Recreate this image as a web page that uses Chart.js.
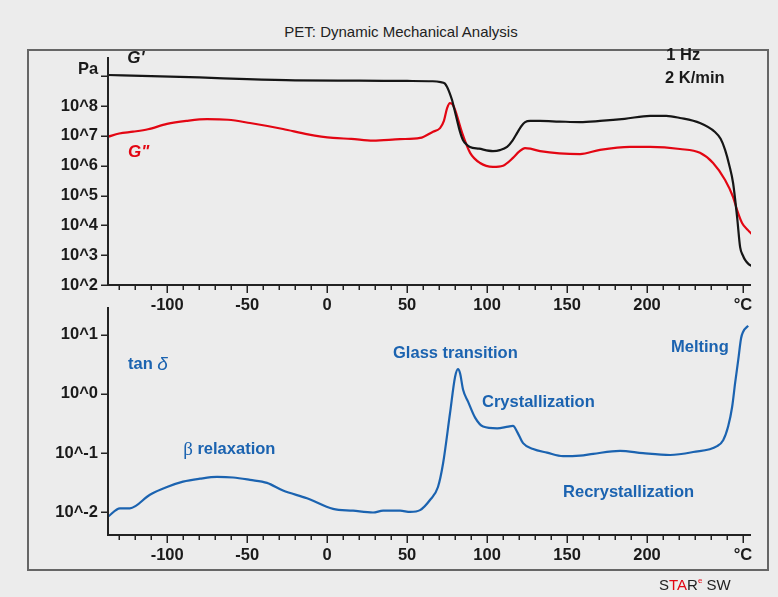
<!DOCTYPE html>
<html>
<head>
<meta charset="utf-8">
<title>PET: Dynamic Mechanical Analysis</title>
<script src="https://cdn.jsdelivr.net/npm/chart.js@4.4.1/dist/chart.umd.min.js"></script>
<style>
  html, body { margin: 0; padding: 0; background: #ececec; }
  #page { position: relative; width: 778px; height: 597px; overflow: hidden;
          font-family: "Liberation Sans", Arial, sans-serif; }
  #title { position: absolute; left: 401px; top: 23px; transform: translateX(-50%);
           font-size: 15px; line-height: 18px; color: #222; white-space: nowrap; }
  #frame { position: absolute; left: 27px; top: 49px; width: 742px; height: 522px;
           box-sizing: border-box; border: 2px solid #666; }
  #footer { position: absolute; left: 659px; top: 576px; font-size: 15px; line-height: 18px;
            color: #222; white-space: nowrap; }
  #footer .r { color: #e30613; }
  #footer sup { font-size: 8px; vertical-align: 7px; line-height: 0; }
  canvas { position: absolute; left: 0; top: 0; }
</style>
</head>
<body>
<div id="page">
  <div id="title">PET: Dynamic Mechanical Analysis</div>
  <div id="frame"></div>
  <canvas id="moduli" width="778" height="597"></canvas>
  <canvas id="tand" width="778" height="597"></canvas>
  <div id="footer">S<span class="r">TA</span>R<sup class="r">e</sup> SW</div>
</div>
<script>
// Temperature in °C; moduli and loss factor stored as log10 values.
const storageT = [-137, -110, -80, -50, -20, 20, 50, 66, 71, 73.5, 75, 76.5, 78.1, 79.6, 81.2, 83, 84.9, 87, 89.3, 95,
  103.7, 108, 112.5, 116, 118.8, 121.5, 123.8, 127, 133.1, 145, 158.1, 170.6, 186, 201.9, 212, 220.6, 233.1, 242.5, 246, 248.8,
  251.5, 253.8, 256.3, 258.2, 260, 261.3, 263.5, 265.5];
const storageLog = [9.04, 9.00, 8.96, 8.90, 8.86, 8.85, 8.84, 8.83, 8.80, 8.76, 8.64, 8.45, 8.20, 7.88, 7.53, 7.15, 6.86, 6.72, 6.63, 6.57,
  6.49, 6.52, 6.63, 6.85, 7.10, 7.33, 7.46, 7.50, 7.50, 7.48, 7.46, 7.50, 7.57, 7.67, 7.67, 7.60, 7.43, 7.13, 6.90, 6.53,
  6.00, 5.42, 4.28, 3.27, 2.98, 2.84, 2.70, 2.64];

const lossT = [-137, -130, -121.3, -112, -100.1, -88, -75.1, -62, -48.2, -27.6, -12, 3.7, 15, 28.7, 45.6, 58.1, 66.2, 70.6, 73, 75,
  76.8, 78.4, 80, 84.4, 89.4, 95.6, 103.7, 110, 116.2, 120, 123.7, 127, 133.1, 158.1, 170.6, 189.4, 201.9, 220.6, 233.1, 241.3,
  248.8, 253.8, 256.3, 259.4, 263.1, 265.5];
const lossLog = [6.97, 7.08, 7.14, 7.22, 7.40, 7.50, 7.56, 7.54, 7.43, 7.23, 7.05, 6.93, 6.90, 6.84, 6.89, 6.93, 7.14, 7.26, 7.50, 7.93,
  8.10, 8.06, 7.87, 7.10, 6.43, 6.09, 5.96, 6.00, 6.26, 6.47, 6.59, 6.57, 6.49, 6.39, 6.53, 6.63, 6.63, 6.56, 6.43, 6.09,
  5.52, 4.95, 4.51, 4.08, 3.84, 3.71];

const tanT = [-137, -129.5, -123.3, -110.8, -100.1, -90.1, -79.5, -68.8, -58.8, -48.2, -37.6, -27.6, -12.6, 3.7, 16.2, 28.7, 35.0, 45.6, 52, 58.1,
  64.3, 69.3, 72.5, 76.8, 80.0, 81.8, 83.1, 85.0, 88.1, 92.5, 97.5, 106.3, 113.2, 116.2, 118.8, 122.5, 128.8, 137.5, 147.5, 158.1,
  166.3, 183.1, 197.5, 214.4, 228.8, 243.8, 247.6, 250.7, 253.2, 255.1, 257.0, 258.8, 260.1, 263.2];
const tanLog = [-2.07, -1.93, -1.93, -1.70, -1.57, -1.48, -1.43, -1.40, -1.41, -1.45, -1.50, -1.63, -1.76, -1.94, -1.97, -2.00, -1.97, -1.97, -1.99, -1.96,
  -1.79, -1.57, -1.17, -0.33, 0.29, 0.42, 0.35, 0.07, -0.13, -0.40, -0.55, -0.58, -0.55, -0.54, -0.64, -0.83, -0.93, -0.99, -1.05, -1.04,
  -1.01, -0.96, -1.00, -1.03, -0.98, -0.88, -0.78, -0.55, -0.22, 0.19, 0.57, 0.94, 1.05, 1.15];

// Axis ticks
const tempTicks = [];
for (let t = -130; t <= 260; t += 10) tempTicks.push(t);
const tempLabels = { '-100': '-100', '-50': '-50', '0': '0', '50': '50', '100': '100', '150': '150', '200': '200', '260': '°C' };
const moduliDecades = [2, 3, 4, 5, 6, 7, 8, 9];
const tanDecades = [-2, -1, 0, 1];

const FONT = '"Liberation Sans", Arial, sans-serif';
const BLUE = '#1b63b0';
const RED = '#e30613';

const pts = (xs, ys) => xs.map((x, i) => ({ x, y: ys[i] }));

// Axis lines, tick marks and text notes placed in data coordinates
const axisDecor = {
  id: 'axisDecor',
  afterDraw(chart, args, opts) {
    const { ctx, chartArea: a, scales: { x, y } } = chart;
    ctx.save();
    ctx.strokeStyle = '#222';
    ctx.lineCap = 'butt';
    ctx.lineWidth = 2;
    ctx.beginPath();
    ctx.moveTo(a.left, a.top - 1);
    ctx.lineTo(a.left, a.bottom);
    ctx.lineTo(a.right, a.bottom);
    ctx.stroke();
    ctx.lineWidth = 1.5;
    ctx.beginPath();
    x.ticks.forEach(t => {
      const px = Math.round(x.getPixelForValue(t.value)) + 0.25;
      const len = tempLabels[String(t.value)] ? 8 : 5;
      ctx.moveTo(px, a.bottom);
      ctx.lineTo(px, a.bottom + len);
    });
    y.ticks.forEach(t => {
      const py = Math.round(y.getPixelForValue(t.value)) + 0.25;
      ctx.moveTo(a.left - 7, py);
      ctx.lineTo(a.left, py);
    });
    ctx.stroke();

    ctx.textBaseline = 'middle';
    (opts.notes || []).forEach(n => {
      let px = x.getPixelForValue(n.x);
      const py = y.getPixelForValue(n.y);
      const widths = n.parts.map(p => { ctx.font = p.font; return ctx.measureText(p.text).width; });
      const total = widths.reduce((s, w) => s + w, 0);
      if (n.align === 'right') px -= total;
      n.parts.forEach((p, i) => {
        ctx.font = p.font;
        ctx.fillStyle = p.color;
        ctx.textAlign = 'left';
        ctx.fillText(p.text, px, py);
        px += widths[i];
      });
    });
    ctx.restore();
  }
};

const bold = `bold 16.5px ${FONT}`;
const boldItalic = `italic bold 17px ${FONT}`;

function tempAxis(xHeight) {
  return {
    type: 'linear', position: 'bottom', min: -137, max: 265,
    afterBuildTicks(s) { s.ticks = tempTicks.map(v => ({ value: v })); },
    afterFit(s) { s.height = xHeight; },
    grid: { display: false, drawTicks: false },
    border: { display: false },
    ticks: {
      autoSkip: false, maxRotation: 0, minRotation: 0, padding: 11,
      color: '#1a1a1a', font: { family: FONT, size: 16.5, weight: 'bold' },
      callback: v => tempLabels[String(v)] || ''
    }
  };
}

function valueAxis(min, max, decades, label) {
  return {
    type: 'linear', position: 'left', min, max,
    afterBuildTicks(s) { s.ticks = decades.map(v => ({ value: v })); },
    afterFit(s) { s.width = 108; },
    grid: { display: false, drawTicks: false },
    border: { display: false },
    ticks: {
      autoSkip: false, padding: 10,
      color: '#1a1a1a', font: { family: FONT, size: 16.5, weight: 'bold' },
      callback: label
    }
  };
}

const common = {
  responsive: false,
  animation: false,
  events: [],
  plugins: { legend: { display: false }, tooltip: { enabled: false } }
};

// Storage and loss modulus
new Chart(document.getElementById('moduli'), {
  type: 'line',
  data: {
    datasets: [
      { label: "G'", data: pts(storageT, storageLog), borderColor: '#161616', borderWidth: 2.2,
        pointRadius: 0, cubicInterpolationMode: 'monotone', fill: false },
      { label: 'G"', data: pts(lossT, lossLog), borderColor: RED, borderWidth: 2.2,
        pointRadius: 0, cubicInterpolationMode: 'monotone', fill: false }
    ]
  },
  options: {
    ...common,
    layout: { padding: { left: 0, top: 58, right: 27, bottom: 0 } },
    scales: {
      x: tempAxis(597 - 285),
      y: valueAxis(2, 9.61, moduliDecades, v => (v === 9 ? '' : '10^' + v))
    },
    plugins: {
      ...common.plugins,
      axisDecor: {
        notes: [
          { x: -143.2, y: 9.24, align: 'right', parts: [{ text: 'Pa', font: bold, color: '#1a1a1a' }] },
          { x: -125, y: 9.61, parts: [{ text: "G'", font: boldItalic, color: '#1a1a1a' }] },
          { x: -124.5, y: 6.46, parts: [{ text: 'G"', font: boldItalic, color: RED }] },
          { x: 212, y: 9.71, parts: [{ text: '1 Hz', font: bold, color: '#1a1a1a' }] },
          { x: 211.3, y: 8.92, parts: [{ text: '2 K/min', font: bold, color: '#1a1a1a' }] }
        ]
      }
    }
  },
  plugins: [axisDecor]
});

// Loss factor
new Chart(document.getElementById('tand'), {
  type: 'line',
  data: {
    datasets: [
      { label: 'tan δ', data: pts(tanT, tanLog), borderColor: BLUE, borderWidth: 2.2,
        pointRadius: 0, cubicInterpolationMode: 'monotone', fill: false }
    ]
  },
  options: {
    ...common,
    layout: { padding: { left: 0, top: 308, right: 27, bottom: 0 } },
    scales: {
      x: tempAxis(597 - 535),
      y: valueAxis(-2.38, 1.45, tanDecades, v => '10^' + v)
    },
    plugins: {
      ...common.plugins,
      axisDecor: {
        notes: [
          { x: -124.5, y: 0.49, parts: [
            { text: 'tan ', font: bold, color: BLUE },
            { text: 'δ', font: `italic 19px ${FONT}`, color: BLUE } ] },
          { x: -90, y: -0.94, parts: [
            { text: 'β', font: `19px "Liberation Serif", serif`, color: BLUE },
            { text: ' relaxation', font: bold, color: BLUE } ] },
          { x: 41.2, y: 0.69, parts: [{ text: 'Glass transition', font: bold, color: BLUE }] },
          { x: 96.8, y: -0.15, parts: [{ text: 'Crystallization', font: bold, color: BLUE }] },
          { x: 147.5, y: -1.67, parts: [{ text: 'Recrystallization', font: bold, color: BLUE }] },
          { x: 215, y: 0.78, parts: [{ text: 'Melting', font: bold, color: BLUE }] }
        ]
      }
    }
  },
  plugins: [axisDecor]
});
</script>
</body>
</html>
